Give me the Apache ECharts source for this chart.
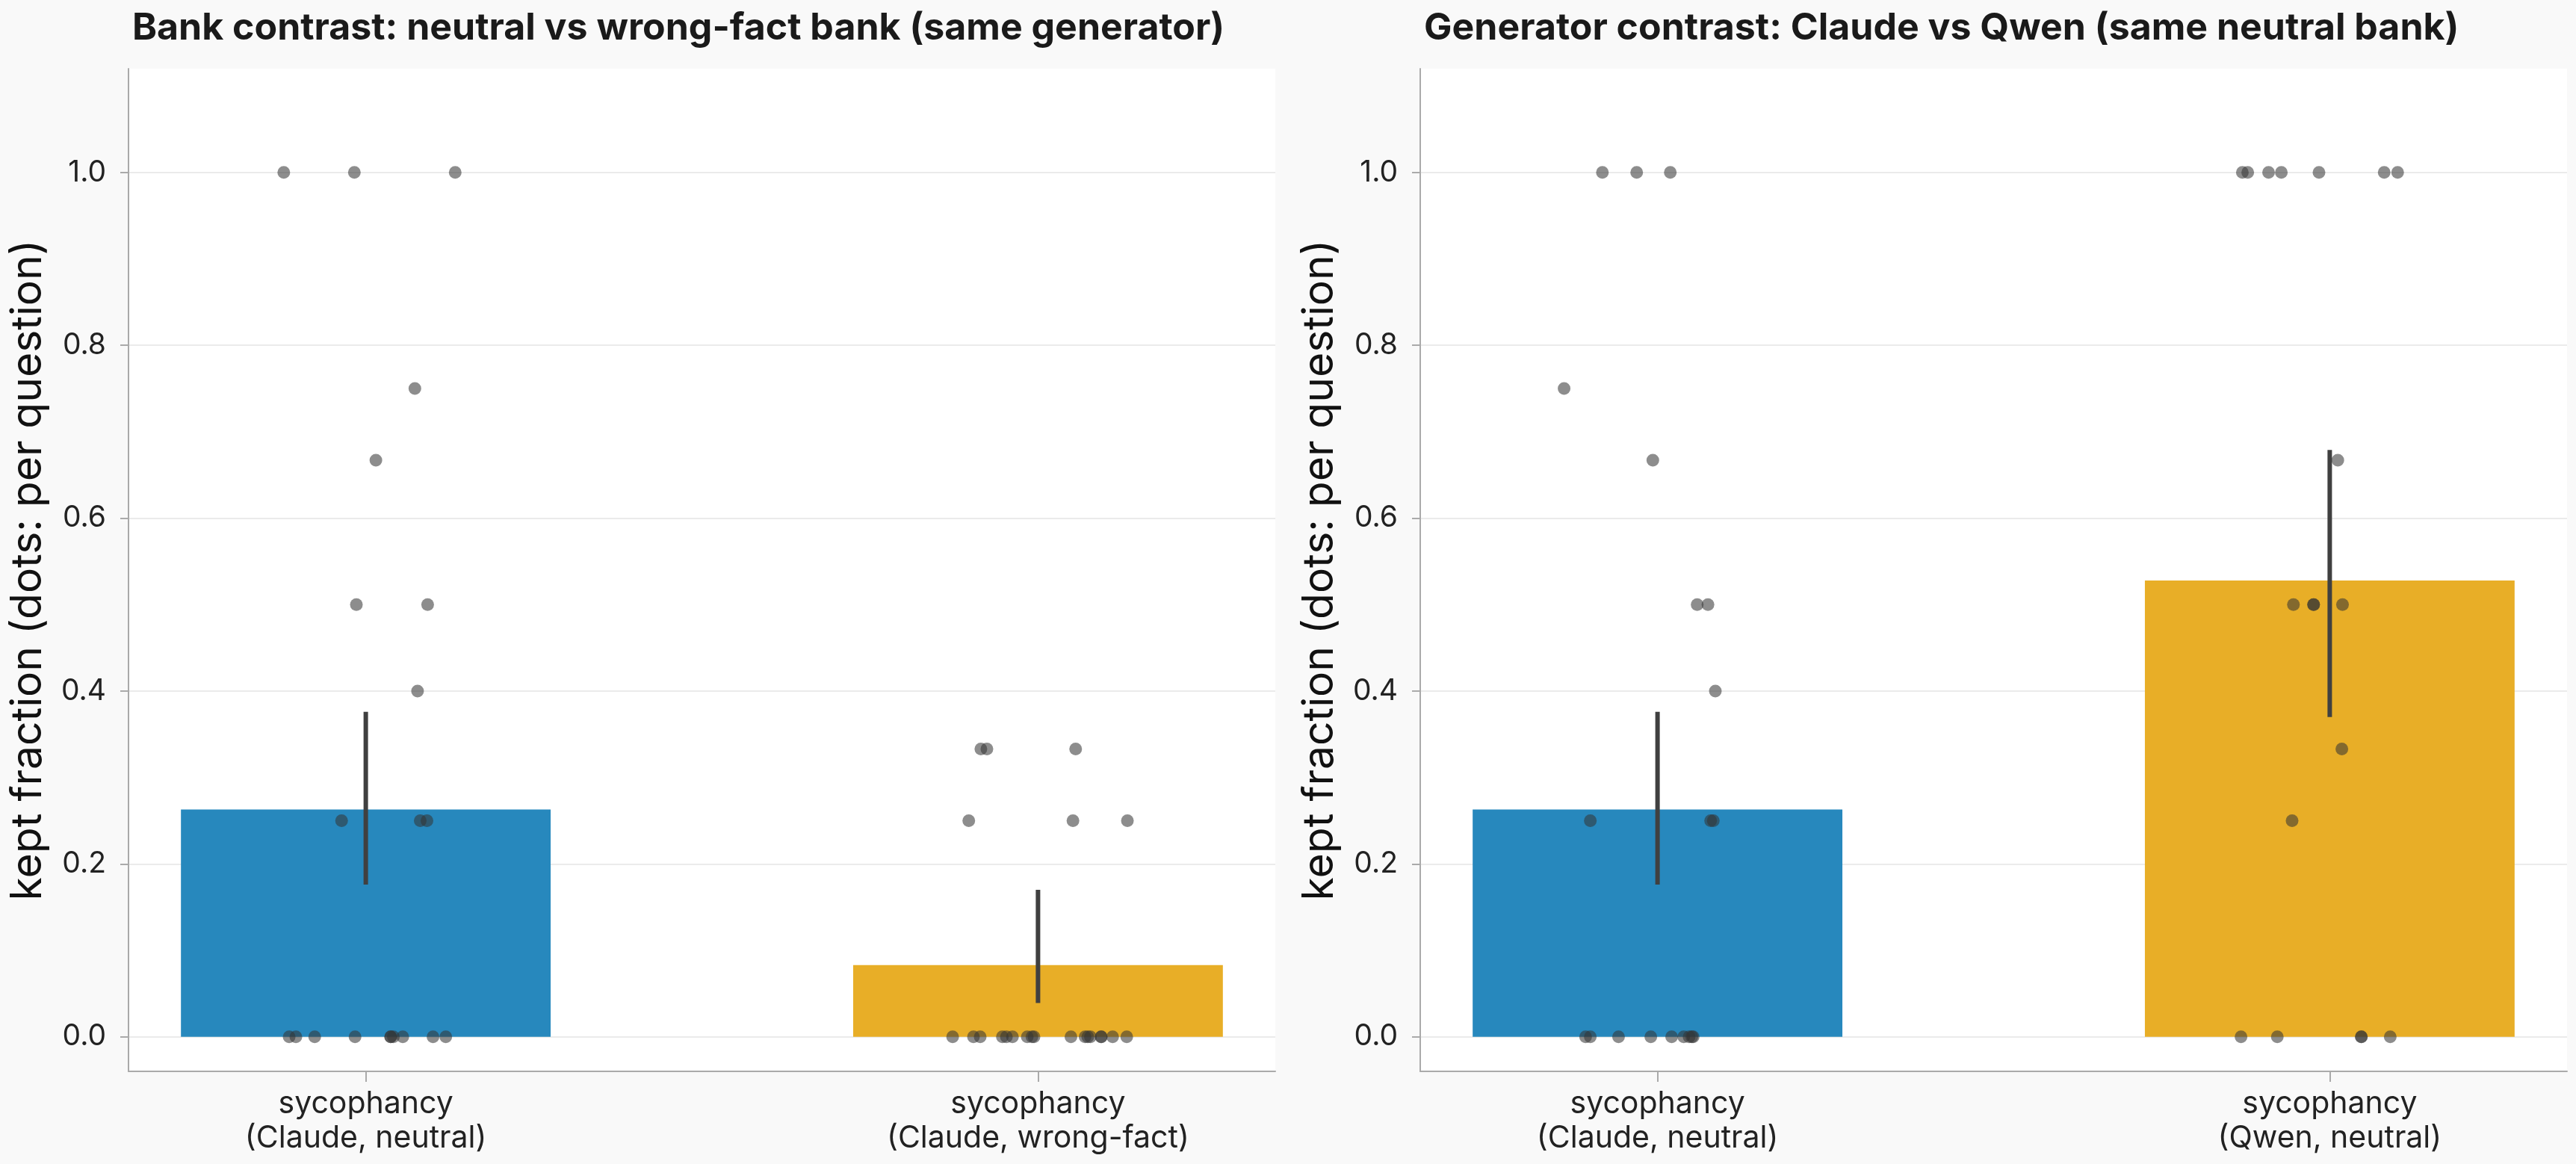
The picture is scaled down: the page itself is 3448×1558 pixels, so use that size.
<!DOCTYPE html>
<html>
<head>
<meta charset="utf-8">
<script src="https://cdn.jsdelivr.net/npm/echarts@6/dist/echarts.min.js"></script>
<style>
  html, body { margin: 0; padding: 0; background: #f9f9f9; }
  #chart { width: 3448px; height: 1558px; }
</style>
</head>
<body>
<div id="chart"></div>
<script>
const chart = echarts.init(document.getElementById('chart'))

// panel titles
const titles = [
  'Bank contrast: neutral vs wrong-fact bank (same generator)',
  'Generator contrast: Claude vs Qwen (same neutral bank)',
]
// category labels per panel
const catsLeft = ['sycophancy\n(Claude, neutral)', 'sycophancy\n(Claude, wrong-fact)']
const catsRight = ['sycophancy\n(Claude, neutral)', 'sycophancy\n(Qwen, neutral)']
const yTicks = [0, 0.2, 0.4, 0.6, 0.8, 1.0]

// bar means and CI (low, high)
const meansLeft = [0.263, 0.083]
const ciLeft = [[0.176, 0.376], [0.039, 0.170]]
const meansRight = [0.263, 0.528]
const ciRight = [[0.176, 0.376], [0.370, 0.679]]
const barColors = ['#2788bd', '#e8ae27']

// per-question dots: [category + jitter, kept fraction]
const dotsLeft = [
  [-0.122, 1], [-0.017, 1], [0.133, 1], [0.073, 0.75], [0.015, 0.667],
  [-0.014, 0.5], [0.092, 0.5], [0.077, 0.4], [-0.036, 0.25], [0.081, 0.25], [0.091, 0.25],
  [-0.114, 0], [-0.104, 0], [-0.076, 0], [-0.016, 0], [0.037, 0], [0.037, 0],
  [0.041, 0], [0.055, 0], [0.1, 0], [0.119, 0],
  [0.915, 0.333], [0.924, 0.333], [1.056, 0.333], [0.897, 0.25], [1.052, 0.25], [1.133, 0.25],
  [0.873, 0], [0.904, 0], [0.914, 0], [0.947, 0], [0.953, 0], [0.962, 0], [0.984, 0],
  [0.991, 0], [0.994, 0], [1.049, 0], [1.07, 0], [1.074, 0], [1.078, 0], [1.094, 0],
  [1.094, 0], [1.111, 0], [1.132, 0],
]
const dotsRight = [
  [-0.082, 1], [-0.031, 1], [0.019, 1], [-0.139, 0.75], [-0.007, 0.667],
  [0.059, 0.5], [0.075, 0.5], [0.086, 0.4], [-0.1, 0.25], [0.079, 0.25], [0.083, 0.25],
  [-0.107, 0], [-0.1, 0], [-0.058, 0], [-0.01, 0], [0.021, 0], [0.039, 0], [0.047, 0],
  [0.051, 0], [0.053, 0],
  [0.87, 1], [0.878, 1], [0.909, 1], [0.928, 1], [0.984, 1], [1.081, 1], [1.101, 1],
  [1.012, 0.667], [0.946, 0.5], [0.976, 0.5], [0.976, 0.5], [1.019, 0.5], [1.018, 0.333],
  [0.944, 0.25], [0.868, 0], [0.922, 0], [1.047, 0], [1.047, 0], [1.09, 0],
]

const font = 'Inter, "Noto Sans", sans-serif'
const panels = [
  { left: 172, cats: catsLeft, means: meansLeft, ci: ciLeft, dots: dotsLeft },
  { left: 1901, cats: catsRight, means: meansRight, ci: ciRight, dots: dotsRight },
]
const plotW = 1535
const plotTop = 92
const plotH = 1342

const grid = []
const xAxis = []
const yAxis = []
const series = []
const title = []

panels.forEach((p, i) => {
  grid.push({
    left: p.left, top: plotTop, width: plotW, height: plotH,
    show: true, backgroundColor: '#ffffff', borderWidth: 0,
  })
  // titles sit flush with the left spine of each panel
  title.push({
    text: titles[i],
    left: p.left, top: 8,
    textStyle: { fontFamily: font, fontSize: 50, fontWeight: 'bold', color: '#1a1a1a' },
  })
  xAxis.push({
    type: 'value', gridIndex: i, min: -0.353, max: 1.353,
    axisLine: { show: true, onZero: false, lineStyle: { color: '#aaaaaa', width: 2 } },
    axisTick: { show: true, customValues: [0, 1], length: 14, lineStyle: { color: '#aaaaaa', width: 2 } },
    axisLabel: {
      customValues: [0, 1], margin: 21,
      formatter: v => p.cats[Math.round(v)],
      fontFamily: font, fontSize: 41, lineHeight: 46, color: '#222',
    },
    splitLine: { show: false },
  })
  yAxis.push({
    type: 'value', gridIndex: i, min: -0.04, max: 1.12,
    name: 'kept fraction (dots: per question)',
    nameLocation: 'middle', nameGap: 106, nameRotate: 90,
    nameTextStyle: { fontFamily: font, fontSize: 57, color: '#111' },
    axisLine: { show: true, onZero: false, lineStyle: { color: '#aaaaaa', width: 2 } },
    axisTick: { show: true, customValues: yTicks, length: 11, lineStyle: { color: '#aaaaaa', width: 2 } },
    axisLabel: {
      customValues: yTicks, margin: 30,
      formatter: v => v.toFixed(1),
      fontFamily: font, fontSize: 39, color: '#222',
    },
    splitLine: { show: true, lineStyle: { color: '#ebebeb', width: 2 } },
  })
  series.push({
    type: 'custom', xAxisIndex: i, yAxisIndex: i, z: 2,
    data: p.means.map((m, k) => [k, m]),
    renderItem: (params, api) => {
      const k = api.value(0)
      const a = api.coord([k - 0.275, api.value(1)])
      const b = api.coord([k + 0.275, 0])
      return {
        type: 'rect',
        shape: { x: a[0], y: a[1], width: b[0] - a[0], height: b[1] - a[1] },
        style: { fill: barColors[k] },
      }
    },
  })
  series.push({
    type: 'custom', xAxisIndex: i, yAxisIndex: i, z: 3,
    data: p.ci.map((c, k) => [k, c[0], c[1]]),
    renderItem: (params, api) => {
      const lo = api.coord([api.value(0), api.value(1)])
      const hi = api.coord([api.value(0), api.value(2)])
      return {
        type: 'line',
        shape: { x1: lo[0], y1: lo[1], x2: hi[0], y2: hi[1] },
        style: { stroke: '#404040', lineWidth: 6 },
      }
    },
  })
  series.push({
    type: 'scatter', xAxisIndex: i, yAxisIndex: i, z: 4,
    data: p.dots,
    symbolSize: 17,
    itemStyle: { color: '#333333', opacity: 0.56 },
    silent: true,
  })
})

chart.setOption({
  animation: false,
  backgroundColor: '#f9f9f9',
  title, grid, xAxis, yAxis, series,
})
</script>
</body>
</html>
